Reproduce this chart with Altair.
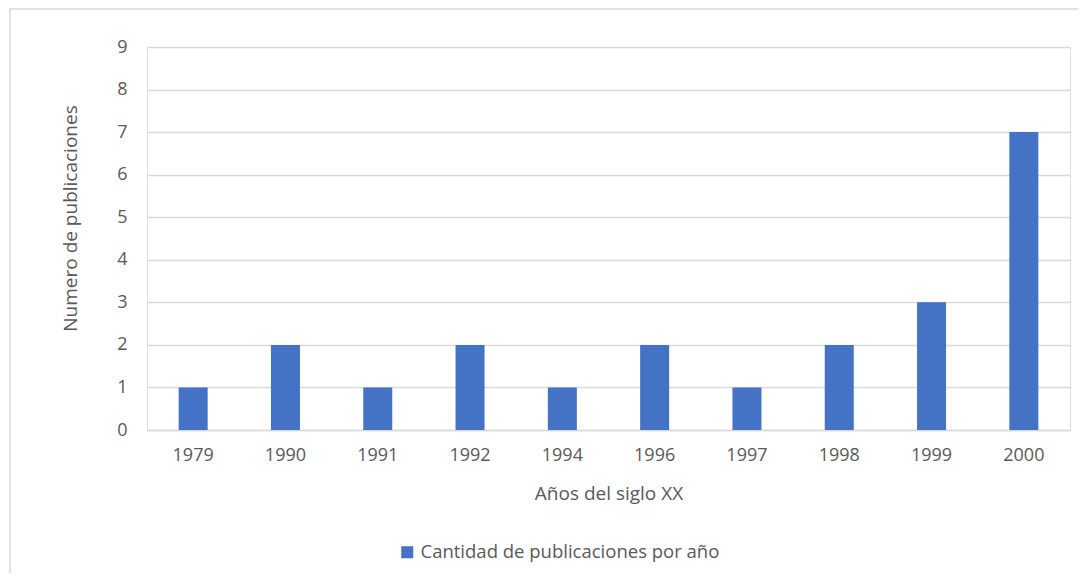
import altair as alt
import pandas as pd

years = ["1979", "1990", "1991", "1992", "1994", "1996", "1997", "1998", "1999", "2000"]
counts = [1, 2, 1, 2, 1, 2, 1, 2, 3, 7]
series_name = "Cantidad de publicaciones por año"

df = pd.DataFrame({"year": years, "count": counts, "serie": [series_name] * len(years)})

FONT = "Open Sans"
TXT = "#595959"
GRID = "#D9D9D9"

frame = alt.Chart(pd.DataFrame({"a": [0]})).mark_rect(
    fill=None, stroke=GRID, strokeWidth=1.5
).encode(
    x=alt.value(-137), x2=alt.value(1000), y=alt.value(-38), y2=alt.value(700)
)

bars = alt.Chart(df).mark_bar(size=29).encode(
    x=alt.X(
        "year:N",
        sort=years,
        scale=alt.Scale(paddingInner=0.0, paddingOuter=0.0),
        axis=alt.Axis(
            title="Años del siglo XX",
            labelAngle=0,
            labelFontSize=18,
            labelColor=TXT,
            labelFont=FONT,
            labelPadding=16,
            ticks=False,
            domain=True,
            domainColor=GRID,
            domainWidth=1.5,
            grid=False,
            titleFont=FONT,
            titleFontSize=19,
            titleFontWeight="normal",
            titleColor=TXT,
            titleY=63,
            titleBaseline="middle",
        ),
    ),
    y=alt.Y(
        "count:Q",
        scale=alt.Scale(domain=[0, 9], nice=False),
        axis=alt.Axis(
            title="Numero de publicaciones",
            values=list(range(0, 10)),
            labelFontSize=18,
            labelColor=TXT,
            labelFont=FONT,
            labelPadding=20,
            ticks=False,
            domain=False,
            grid=True,
            gridColor=GRID,
            gridWidth=1.5,
            titleFont=FONT,
            titleFontSize=19,
            titleFontWeight="normal",
            titleColor=TXT,
            titleX=-77,
            titleY=171,
            titleAngle=270,
            titleAlign="center",
            titleBaseline="middle",
        ),
    ),
    color=alt.Color(
        "serie:N",
        scale=alt.Scale(domain=[series_name], range=["#4472C4"]),
        legend=alt.Legend(
            title=None,
            orient="none",
            legendX=251,
            legendY=496,
            symbolType="square",
            symbolSize=144,
            symbolStrokeWidth=0,
            labelFont=FONT,
            labelFontSize=18.5,
            labelColor=TXT,
            labelOffset=4,
            labelLimit=0,
        ),
    ),
)

chart = alt.layer(frame, bars).properties(
    width=923,
    height=383,
    autosize=alt.AutoSizeParams(type="none"),
    padding={"left": 139, "top": 39, "right": 8, "bottom": 143},
).configure_view(stroke=None).configure(background="white")

chart.save("out.html", embed_options={"renderer": "svg", "actions": False})
